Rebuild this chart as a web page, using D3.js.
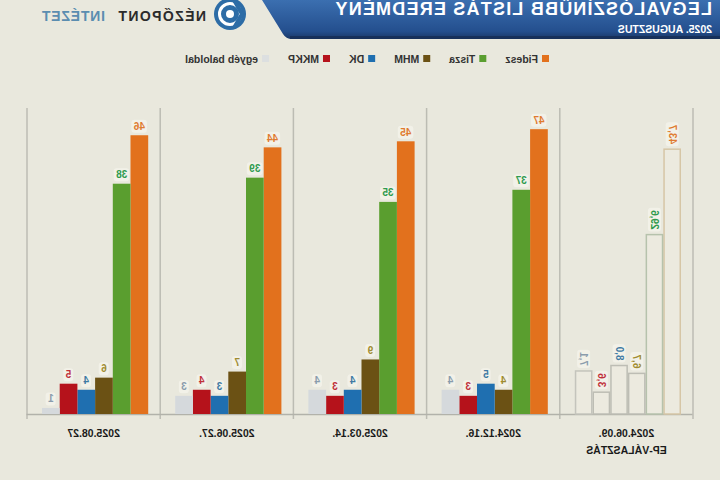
<!DOCTYPE html>
<html>
<head>
<meta charset="utf-8">
<script src="https://cdn.jsdelivr.net/npm/d3@7"></script>
<style>
  body { margin:0; background:#e9e8dd; }
  svg { display:block; font-family: "Liberation Sans", Arial, sans-serif; }
</style>
</head>
<body>
<svg id="chart"></svg>
<script>
// dates of the polls, first one is the EP election result
var groups = ["2024.06.09.", "2024.12.16.", "2025.03.14.", "2025.06.27.", "2025.08.27"]
var parties = ["Fidesz", "Tisza", "MHM", "DK", "MKKP", "egyéb baloldal"]
var fidesz = [43.7, 47, 45, 44, 46]
var tisza = [29.6, 37, 35, 39, 38]
var mhm = [6.7, 4, 9, 7, 6]
var dk = [8.0, 5, 4, 3, 4]
var mkkp = [3.6, 3, 3, 4, 5]
var egyeb = [7.1, 4, 4, 3, 1]

var barColors = ["#e2711d", "#5a9e2f", "#6b5114", "#1f6fb0", "#b5121b", "#d5d9dc"]
var labelColors = ["#e07b30", "#2e9a4e", "#a08c30", "#3f7aa3", "#c0303a", "#8a9cac"]
var epStroke = ["#d6c6a6", "#b6c2ac", "#bdbdb4", "#bdbdb4", "#bdbdb4", "#c4c4bc"]

var series = [fidesz, tisza, mhm, dk, mkkp, egyeb]
var rows = []
groups.forEach(function(g, gi){
  parties.forEach(function(p, pi){
    rows.push({group:g, gi:gi, party:p, pi:pi, value:series[pi][gi]})
  })
})

var width = 720, height = 480
var svg = d3.select("#chart").attr("width", width).attr("height", height)
// the reference picture is mirrored left-right, so draw everything flipped
var root = svg.append("g").attr("transform", "translate(" + width + ",0) scale(-1,1)")

root.append("rect").attr("width", width).attr("height", height).attr("fill", "#e9e8dd")

// header banner
var defs = svg.append("defs")
var grad = defs.append("linearGradient").attr("id", "bann").attr("x1", 0).attr("y1", 0).attr("x2", 0).attr("y2", 1)
grad.append("stop").attr("offset", "0%").attr("stop-color", "#3b6fb0")
grad.append("stop").attr("offset", "80%").attr("stop-color", "#244f8e")
grad.append("stop").attr("offset", "100%").attr("stop-color", "#1a3766")

root.append("path")
  .attr("d", "M0,0 L458,0 L437,34 Q434,39 428,39 L0,39 Z")
  .attr("fill", "url(#bann)")
root.append("rect").attr("x", 0).attr("y", 36).attr("width", 430).attr("height", 3).attr("fill", "#17305a")

root.append("text").attr("x", 8).attr("y", 15)
  .style("font-size", "18px").style("font-weight", "bold").style("fill", "#ffffff")
  .style("letter-spacing", "1.2px")
  .text("LEGVALÓSZÍNŰBB LISTÁS EREDMÉNY")
root.append("text").attr("x", 8).attr("y", 33)
  .style("font-size", "10.5px").style("font-weight", "bold").style("fill", "#ffffff")
  .text("2025. AUGUSZTUS")

// logo
var logo = root.append("g").attr("transform", "translate(490,14)")
logo.append("circle").attr("r", 16).attr("fill", "#2d6ca6")
logo.append("circle").attr("r", 10.5).attr("fill", "none").attr("stroke", "#ffffff").attr("stroke-width", 3)
logo.append("circle").attr("r", 4).attr("fill", "#ffffff")
logo.append("path").attr("d", "M-4,-14 L-12,0 L-4,14").attr("fill", "none").attr("stroke", "#2d6ca6").attr("stroke-width", 4)
root.append("text").attr("x", 514).attr("y", 21)
  .style("font-size", "14px").style("font-weight", "bold").style("fill", "#2b2b2b").style("letter-spacing", "1.4px")
  .text("NÉZŐPONT")
root.append("text").attr("x", 615).attr("y", 21)
  .style("font-size", "14px").style("font-weight", "bold").style("fill", "#5b8db0").style("letter-spacing", "0.8px")
  .text("INTÉZET")

// legend
var leg = root.append("g").attr("transform", "translate(171,59)")
var lx = 0
parties.forEach(function(p, i){
  var it = leg.append("g").attr("transform", "translate(" + lx + ",0)")
  it.append("rect").attr("x", 0).attr("y", -4).attr("width", 7).attr("height", 7).attr("fill", i == 5 ? "#dcdfe0" : barColors[i])
  var t = it.append("text").attr("x", 11).attr("y", 3.5)
    .style("font-size", "10.5px").style("font-weight", "bold").style("fill", "#333")
    .text(p)
  lx += 11 + t.node().getComputedTextLength() + 19
})

// scales
var x0 = d3.scaleBand().domain(groups).range([27, 693]).padding(0)
var x1 = d3.scaleBand().domain(parties).range([12, x0.bandwidth() - 15]).padding(0)
var y = d3.scaleLinear().domain([0, 50]).range([414, 111])

// separators
var seps = x0.domain().map(function(g){ return x0(g) }).concat([693])
root.selectAll(".sep").data(seps).enter().append("line")
  .attr("class", "sep")
  .attr("x1", function(d){ return d }).attr("x2", function(d){ return d })
  .attr("y1", 108).attr("y2", 419)
  .attr("stroke", "#bcbcb3").attr("stroke-width", 1.5)

// baseline
var xAxis = d3.axisBottom(x0).tickSize(0).tickFormat("")
var ax = root.append("g").attr("transform", "translate(0," + y(0) + ")").call(xAxis)
ax.select(".domain").attr("stroke", "#b2b2aa").attr("stroke-width", 1.5)

// bars
root.selectAll(".bar").data(rows).enter().append("rect")
  .attr("class", "bar")
  .attr("x", function(d){ return x0(d.group) + x1(d.party) + (d.gi == 0 ? 0.75 : 0) })
  .attr("width", function(d){ return x1.bandwidth() - (d.gi == 0 ? 1.5 : 0) })
  .attr("y", function(d){ return y(d.value) })
  .attr("height", function(d){ return y(0) - y(d.value) })
  .attr("fill", function(d){ return d.gi == 0 ? "#eceadf" : barColors[d.pi] })
  .attr("stroke", function(d){ return d.gi == 0 ? epStroke[d.pi] : "none" })
  .attr("stroke-width", 1.5)

// value labels
var lab = root.selectAll(".lab").data(rows).enter().append("g")
  .attr("class", "lab")
  .attr("transform", function(d){
    var cx = x0(d.group) + x1(d.party) + x1.bandwidth() / 2
    if (d.gi == 0) return "translate(" + (cx + 3.5) + "," + (y(d.value) - 5) + ") rotate(-90)"
    return "translate(" + cx + "," + (y(d.value) - 9) + ")"
  })
lab.each(function(d){
  var g = d3.select(this)
  var txt = d.gi == 0 ? d3.format(".1f")(d.value).replace(".", ",") : d3.format("d")(d.value)
  var t = g.append("text")
    .attr("text-anchor", d.gi == 0 ? "start" : "middle")
    .attr("y", d.gi == 0 ? 0 : 3.5)
    .style("font-size", "10px").style("font-weight", "bold")
    .style("fill", labelColors[d.pi])
    .text(txt)
  var bb = t.node().getBBox()
  g.insert("rect", "text")
    .attr("x", bb.x - 2).attr("y", bb.y - 1)
    .attr("width", bb.width + 4).attr("height", bb.height + 2)
    .attr("rx", 3)
    .attr("fill", "#f3f2ea").attr("opacity", 0.85)
})

// category labels
root.selectAll(".cat").data(groups).enter().append("text")
  .attr("class", "cat")
  .attr("x", function(d){ return x0(d) + x0.bandwidth() / 2 })
  .attr("y", 437)
  .attr("text-anchor", "middle")
  .style("font-size", "10.5px").style("font-weight", "bold").style("fill", "#1a1a1a")
  .text(function(d){ return d })
root.append("text")
  .attr("x", x0(groups[0]) + x0.bandwidth() / 2)
  .attr("y", 454)
  .attr("text-anchor", "middle")
  .style("font-size", "10.5px").style("font-weight", "bold").style("fill", "#1a1a1a")
  .text("EP-VÁLASZTÁS")
</script>
</body>
</html>
